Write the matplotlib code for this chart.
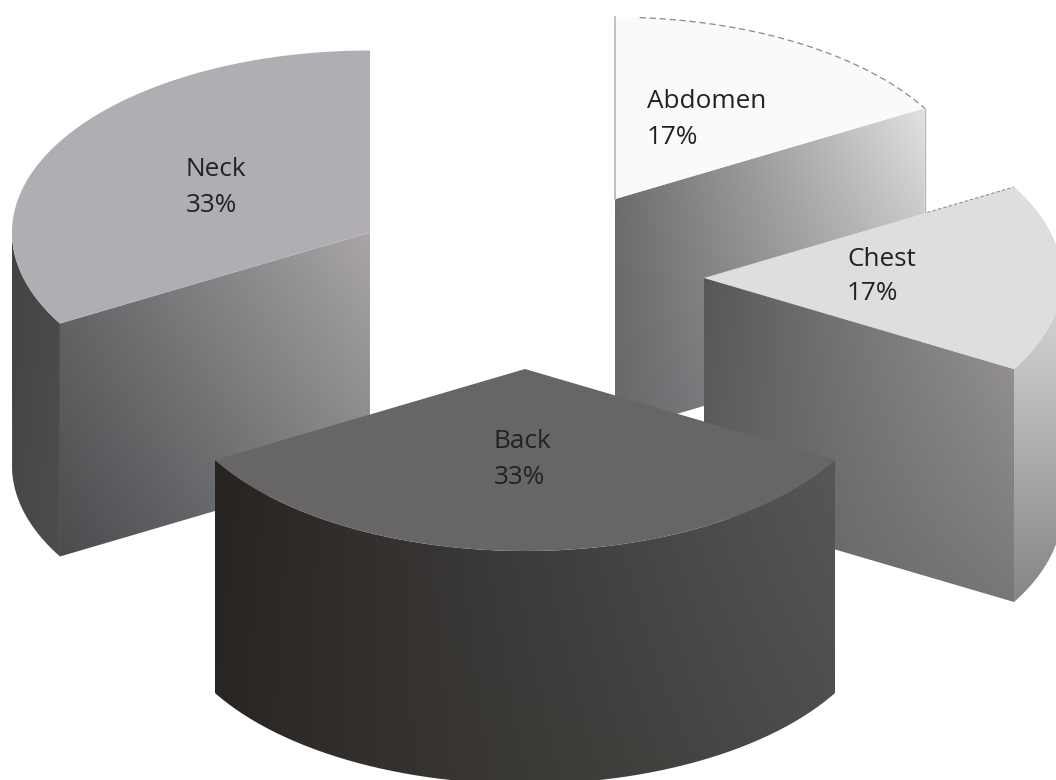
import numpy as np
import matplotlib
matplotlib.use('Agg')
import matplotlib.pyplot as plt
from matplotlib.patches import PathPatch, Polygon
from matplotlib.path import Path
from matplotlib.colors import to_rgb

categories = ['Abdomen', 'Chest', 'Back', 'Neck']
values = [1, 1, 2, 2]

# pie layout, in pixels
center = (525, 278)
rx, ry = 358, 182
depth = 233
explode = 0.5

# corner colours of each panel: top left, top right, bottom left, bottom right
top_colors = {'Abdomen': '#fafafa', 'Chest': '#dfdddf', 'Back': '#686566', 'Neck': '#b0aeb3'}
face_colors = {
    'Abdomen': ['#6e6e6f', '#e2e2e4', '#66686a', '#a09ea2'],
    'Chest': ['#565758', '#9d989c', '#5f6062', '#777779'],
    'Neck': ['#6a6a6c', '#aaa6a8', '#4a4c4e', '#7a7b7f'],
}
arc_colors = {
    'Chest': ['#dcd9dd', '#dcd9dd', '#858585', '#858585'],
    'Back': ['#272321', '#565858', '#2a2623', '#4c4c4a'],
    'Neck': ['#434343', '#4a4a4a', '#484848', '#4d4d4d'],
}
label_pos = {'Abdomen': (647, 102, 'left'), 'Chest': (847, 259, 'left'),
             'Back': (494, 442, 'left'), 'Neck': (186, 170, 'left')}


def rim(apex, angles):
    t = np.radians(angles)
    return np.column_stack([apex[0] + rx * np.sin(t), apex[1] - ry * np.cos(t)])


def shaded(ax, pts, corners, zorder):
    # bilinear gradient clipped to the panel outline
    x0, y0 = pts.min(axis=0)
    x1, y1 = pts.max(axis=0)
    c = np.array([to_rgb(k) for k in corners])
    u, v = np.meshgrid(np.linspace(0, 1, 200), np.linspace(0, 1, 200))
    u, v = u[..., None], v[..., None]
    img = (1-u)*(1-v)*c[0] + u*(1-v)*c[1] + (1-u)*v*c[2] + u*v*c[3]
    im = ax.imshow(img, extent=(x0, x1, y1, y0), aspect='auto', zorder=zorder,
                   interpolation='bilinear')
    patch = PathPatch(Path(np.vstack([pts, pts[:1]])), transform=ax.transData)
    im.set_clip_path(patch)


fig = plt.figure(figsize=(10.56, 7.8), dpi=100)
ax = fig.add_axes([0, 0, 1, 1])
ax.axis('off')

total = sum(values)
edges = np.concatenate([[0], np.cumsum(values)]) * 360 / total

slices = []
for i, name in enumerate(categories):
    start, end = edges[i], edges[i + 1]
    mid = np.radians((start + end) / 2)
    apex = (center[0] + explode * rx * np.sin(mid), center[1] - explode * ry * np.cos(mid))
    slices.append((apex[1], name, start, end, apex, values[i]))

# back slices first
z = 1
for _, name, start, end, apex, val in sorted(slices, key=lambda s: s[0]):
    apex_arr = np.array(apex)
    down = np.array([0, depth])
    angles = np.linspace(start, end, 120)
    arc = rim(apex, angles)

    # flat radial faces
    if 0 < end < 180:
        p = rim(apex, [end])[0]
        shaded(ax, np.array([apex_arr, p, p + down, apex_arr + down]), face_colors[name], z)
    if 180 < start < 360:
        p = rim(apex, [start])[0]
        shaded(ax, np.array([apex_arr, p, p + down, apex_arr + down]), face_colors[name], z)

    # outer curved side
    lo, hi = max(start, 90), min(end, 270)
    if lo < hi:
        side = rim(apex, np.linspace(lo, hi, 120))
        shaded(ax, np.vstack([side, side[::-1] + down]), arc_colors[name], z + 1)

    # top
    ax.add_patch(Polygon(np.vstack([apex_arr, arc]), closed=True, fc=top_colors[name],
                         ec='none', zorder=z + 2))
    if name == 'Abdomen':
        ax.plot(arc[8:, 0], arc[8:, 1], color='#8a8a8a', lw=0.9, ls=(0, (5, 3)), zorder=z + 3)
        ax.plot([apex[0], apex[0]], [arc[0, 1], apex[1]], color='#b5b5b5', lw=1.2, zorder=z + 3)
        ax.plot([arc[-1, 0]] * 2, [arc[-1, 1], arc[-1, 1] + 110], color='#b5b5b5', lw=1.0, zorder=z + 1)
    if name == 'Chest':
        # dashed back edge, only the end that sticks out past the abdomen
        tip = arc[0]
        ax.plot([apex[0] + 0.72 * (tip[0] - apex[0]), tip[0]],
                [apex[1] + 0.72 * (tip[1] - apex[1]), tip[1]],
                color='#8f8f8f', lw=0.8, ls=(0, (3, 2)), zorder=z + 3)

    x, y, ha = label_pos[name]
    pct = f'{round(100 * val / total)}%'
    ax.text(x, y, name, fontsize=18.8, family='Open Sans', color='#222222', ha=ha, va='center', zorder=50)
    ax.text(x, y + 35, pct, fontsize=18.8, family='Open Sans', color='#222222', ha=ha, va='center', zorder=50)
    z += 4

ax.set_xlim(0, 1056)
ax.set_ylim(780, 0)
fig.savefig('out.png', dpi=100)
